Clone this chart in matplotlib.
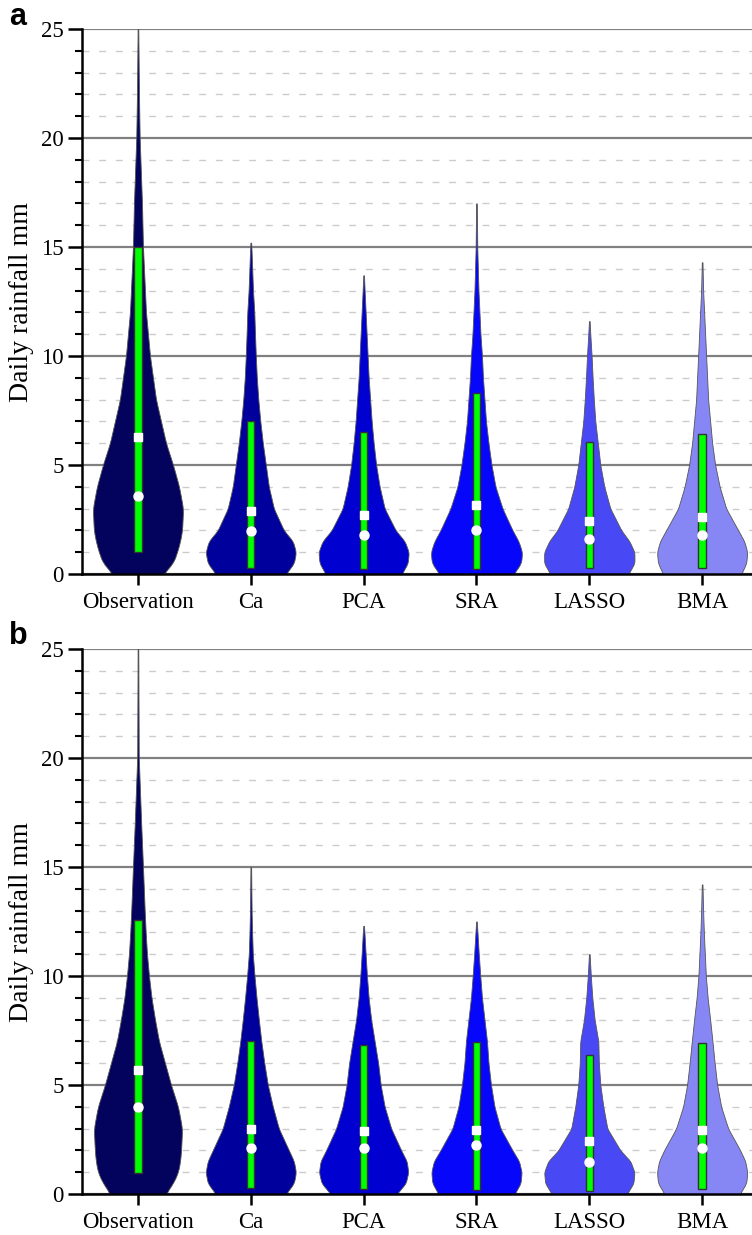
import numpy as np
import matplotlib.pyplot as plt
from matplotlib.ticker import MultipleLocator

categories = ["Observation", "Ca", "PCA", "SRA", "LASSO", "BMA"]
colors = ["#03035e", "#00009c", "#0000d0", "#0606fa", "#4848f4", "#8686f5"]

# density profile levels (mm) and half-widths
levels = [0, 0.5, 1, 1.5, 2, 3, 4, 5, 6, 7, 8, 9, 10, 11, 12, 13, 15, 17, 20, 22]

# panel a
dens_a = [
    [25, 35, 39, 42, 44, 45, 41, 35, 28, 23, 18, 15, 12, 10, 8, 7, 5, 4, 1.7, 1],
    [35, 43, 45, 42, 33, 23, 18, 15, 12, 9.5, 7.5, 6, 5, 4.2, 3.5, 2.2, 0.6],
    [38, 44, 45, 41, 32, 21, 16, 12.5, 10, 8, 6.5, 5, 4, 3, 2, 1],
    [37, 44.5, 45.5, 42, 36, 26, 19, 15, 12, 9.5, 8, 6.5, 5.5, 4, 3, 2, 0.8],
    [39, 45, 45, 40, 32, 21, 15, 11, 8.5, 6, 4.5, 3.3, 2.3, 1],
    [39, 44, 45, 42, 36, 24, 17.5, 13, 10, 8, 6, 5, 4, 3, 2, 1],
]
top_a = [25, 15.2, 13.7, 17.0, 11.6, 14.3]
low_a = [1.0, 0.28, 0.25, 0.22, 0.26, 0.26]
high_a = [15.0, 7.02, 6.5, 8.32, 6.07, 6.44]
mean_a = [6.3, 2.9, 2.7, 3.15, 2.42, 2.63]
median_a = [3.6, 1.97, 1.77, 2.0, 1.59, 1.79]

# panel b
dens_b = [
    [27.5, 35, 40, 42, 43, 44, 40, 33, 27, 21, 17, 13.5, 11, 9, 7.7, 6.7, 5, 3.2, 0.8, 0.6],
    [35, 43, 45, 43, 38, 28, 22, 17, 13.5, 10.5, 8, 5.7, 3.7, 2, 1.3, 0.8],
    [33, 42, 44.5, 43, 37.5, 27.5, 21, 17, 14.5, 11, 7.5, 5, 3.3, 2, 0.8],
    [38, 44, 45, 42.5, 36, 24, 18, 14.5, 12, 10.5, 8, 5.5, 3.8, 2.3, 1],
    [37.5, 44, 45, 41, 31, 18, 14, 11, 9.5, 9, 5.3, 3, 1.5],
    [37.5, 44, 45, 43, 38, 26, 19, 15, 12.5, 10.3, 8, 5.5, 3.7, 2.7, 1.7, 1],
]
top_b = [25, 15.0, 12.3, 12.5, 11.0, 14.2]
low_b = [0.98, 0.26, 0.21, 0.2, 0.15, 0.23]
high_b = [12.57, 7.02, 6.83, 6.99, 6.38, 6.91]
mean_b = [5.67, 2.97, 2.9, 2.94, 2.43, 2.94]
median_b = [3.98, 2.1, 2.12, 2.23, 1.48, 2.1]

plt.rcParams["font.family"] = ["Liberation Serif", "DejaVu Serif"]

fig = plt.figure(figsize=(7.52, 12.35), dpi=100)
ax_a = fig.add_axes([82 / 752, 661 / 1235, 670 / 752, 545 / 1235])
ax_b = fig.add_axes([82 / 752, 41 / 1235, 670 / 752, 545 / 1235])

scale = 0.4 / 45


def outline(y, w, top):
    # smooth the read outline a little so it looks drawn, not polygonal
    yy = np.linspace(0, top, 400)
    ww = np.interp(yy, y, w)
    k = np.ones(9) / 9
    pad = np.concatenate([np.full(4, ww[0]), ww, np.full(4, ww[-1])])
    sm = np.convolve(pad, k, mode="valid")
    sm[0] = ww[0]
    sm[-1] = ww[-1]
    return yy, sm


def draw_panel(ax, dens, top, low, high, mean, median):
    x = np.arange(1, len(categories) + 1)
    for i in range(len(categories)):
        w = np.array(dens[i]) * scale
        y = np.array(levels[:len(w)], dtype=float)
        y = np.append(y, top[i])
        w = np.append(w, 0.003)
        yy, ww = outline(y, w, top[i])
        ax.fill_betweenx(yy, x[i] - ww, x[i] + ww, facecolor=colors[i],
                         edgecolor="#555555", linewidth=0.6, zorder=2)
        ax.bar(x[i], high[i] - low[i], bottom=low[i], width=0.065,
               color="#00ff00", edgecolor="#333333", linewidth=1.0, zorder=3)
    ax.plot(x, mean, "s", color="white", markersize=5.5, zorder=4)
    ax.plot(x, median, "o", color="white", markersize=6.5, zorder=4)

    ax.set_xlim(0.504, 6.442)
    ax.set_ylim(0, 25)
    ax.set_xticks(x)
    ax.set_xticklabels(categories, fontsize=16.5)
    ax.yaxis.set_major_locator(MultipleLocator(5))
    ax.yaxis.set_minor_locator(MultipleLocator(1))
    ax.tick_params(axis="y", which="major", length=10, width=1.8, labelsize=16.5, pad=3)
    ax.tick_params(axis="y", which="minor", length=5, width=1.5)
    ax.tick_params(axis="x", length=8, width=1.8, pad=5)
    ax.grid(axis="y", which="major", color="#808080", linewidth=1.6)
    ax.grid(axis="y", which="minor", color="#cccccc", linewidth=1.0,
            linestyle=(0, (5, 7)))
    ax.set_axisbelow(True)
    for s in ["top", "right"]:
        ax.spines[s].set_visible(False)
    for s in ["left", "bottom"]:
        ax.spines[s].set_linewidth(1.8)
    ax.set_ylabel("Daily rainfall mm", fontsize=20)
    ax.yaxis.set_label_coords(-0.071, 0.5)


draw_panel(ax_a, dens_a, top_a, low_a, high_a, mean_a, median_a)
draw_panel(ax_b, dens_b, top_b, low_b, high_b, mean_b, median_b)

fig.text(9 / 752, 1 - 17 / 1235, "a", fontsize=22, fontweight="bold",
         family="Liberation Sans", va="center", ha="left")
fig.text(9 / 752, 1 - 636 / 1235, "b", fontsize=22, fontweight="bold",
         family="Liberation Sans", va="center", ha="left")

fig.savefig("out.png", dpi=100)
